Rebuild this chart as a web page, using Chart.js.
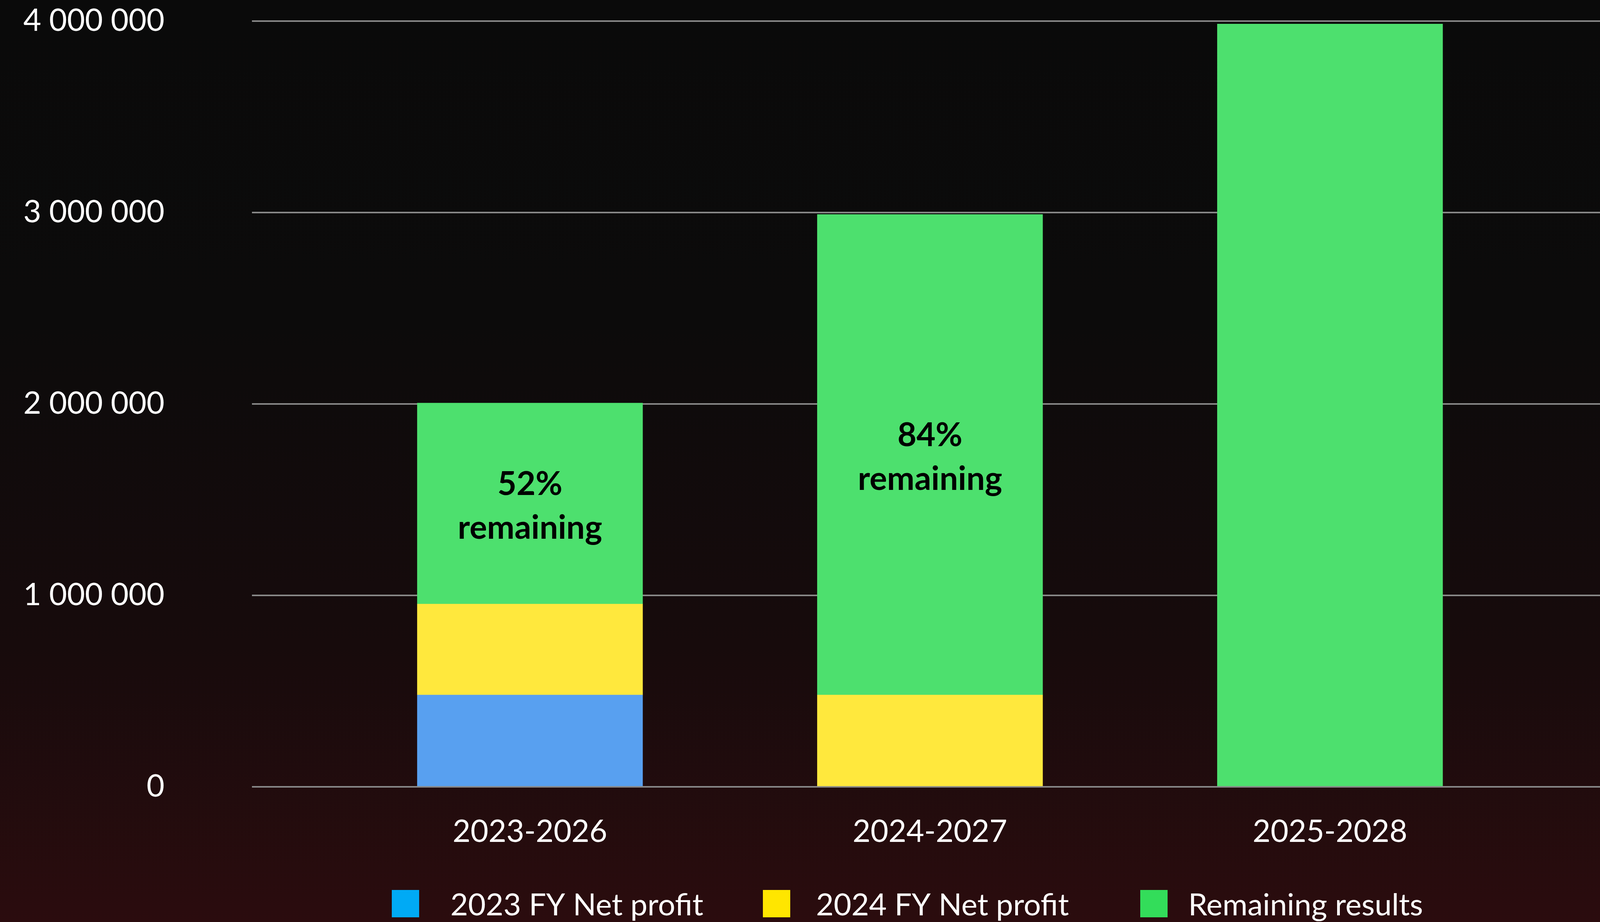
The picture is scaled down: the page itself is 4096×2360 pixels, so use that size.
<!DOCTYPE html>
<html>
<head>
<meta charset="utf-8">
<script src="https://cdn.jsdelivr.net/npm/chart.js@4.4.1/dist/chart.umd.min.js"></script>
<style>
  html, body { margin: 0; padding: 0; }
  body {
    width: 4096px; height: 2360px; overflow: hidden;
    background: linear-gradient(to bottom, #0a0a0a 0%, #0c0b0b 35%, #170b0c 70%, #2b0c0e 100%);
  }
</style>
</head>
<body>
<canvas id="chart" width="4096" height="2360"></canvas>
<script>
// data
const categories = ['2023-2026', '2024-2027', '2025-2028'];
const fy2023Profit = [480000, null, null];
const fy2024Profit = [475000, 480000, null];
const remainingResults = [1050000, 2510000, 3985000];
const remainingShares = ['52%', '84%', ''];
const seriesNames = ['2023 FY Net profit', '2024 FY Net profit', 'Remaining results'];
const yTicks = [0, 1000000, 2000000, 3000000, 4000000];

const barColors = ['#58a0f0', '#ffe83d', '#4de06e'];
const legendColors = ['#00aaf5', '#ffe600', '#33dd5a'];

Chart.defaults.font.family = 'Lato';

const fmt = v => String(v).replace(/\B(?=(\d{3})+(?!\d))/g, ' ');

// "52% remaining" text in the middle of the green part
const remainingLabel = {
  id: 'remainingLabel',
  afterDatasetsDraw(chart) {
    const ctx = chart.ctx;
    const meta = chart.getDatasetMeta(2);
    ctx.save();
    ctx.fillStyle = '#000';
    ctx.font = 'bold 84px Lato';
    ctx.textAlign = 'center';
    ctx.textBaseline = 'alphabetic';
    meta.data.forEach((bar, i) => {
      if (!remainingShares[i]) return;
      const cy = (bar.y + bar.base) / 2;
      ctx.fillText(remainingShares[i], bar.x, cy - 22);
      ctx.fillText('remaining', bar.x, cy + 90);
    });
    ctx.restore();
  }
};

// legend drawn by hand: wider gap between box and text than Chart.js gives
const legendBoxX = [1003, 1953, 2919];
const legendTextX = [1153, 2089, 3042];
const bottomLegend = {
  id: 'bottomLegend',
  afterDraw(chart) {
    const ctx = chart.ctx;
    ctx.save();
    ctx.font = '78px Lato';
    ctx.textAlign = 'left';
    ctx.textBaseline = 'alphabetic';
    seriesNames.forEach((name, i) => {
      ctx.fillStyle = legendColors[i];
      ctx.fillRect(legendBoxX[i], 2278, 70, 70);
      ctx.fillStyle = '#ffffff';
      ctx.fillText(name, legendTextX[i], 2343);
    });
    ctx.restore();
  }
};

new Chart(document.getElementById('chart'), {
  type: 'bar',
  data: {
    labels: categories.map((c, i) => i),
    datasets: [
      { label: seriesNames[0], data: fy2023Profit, backgroundColor: barColors[0] },
      { label: seriesNames[1], data: fy2024Profit, backgroundColor: barColors[1] },
      { label: seriesNames[2], data: remainingResults, backgroundColor: barColors[2] }
    ]
  },
  options: {
    responsive: false,
    animation: false,
    barThickness: 577,
    borderWidth: 0,
    layout: { padding: { top: 54, right: 0, bottom: 0, left: 0 } },
    plugins: { legend: { display: false }, tooltip: { enabled: false } },
    scales: {
      x: {
        type: 'linear',
        stacked: true,
        offset: false,
        min: -0.695,
        max: 2.675,
        afterBuildTicks: s => { s.ticks = categories.map((c, i) => ({ value: i })); },
        afterFit: s => { s.height = 346; s.paddingLeft = 0; s.paddingRight = 0; },
        grid: { display: false, offset: false },
        border: { display: false },
        ticks: {
          callback: v => categories[v],
          color: '#ffffff',
          font: { size: 79 },
          padding: 60,
          maxRotation: 0,
          autoSkip: false
        }
      },
      y: {
        stacked: true,
        min: 0,
        max: 4000000,
        afterBuildTicks: s => { s.ticks = yTicks.map(v => ({ value: v })); },
        afterFit: s => { s.width = 645; s.paddingTop = 0; s.paddingBottom = 0; },
        grid: { color: '#888888', lineWidth: 4, drawTicks: false },
        border: { display: false },
        ticks: {
          callback: v => fmt(v),
          color: '#ffffff',
          font: { size: 79 },
          padding: 224
        }
      }
    }
  },
  plugins: [remainingLabel, bottomLegend]
});
</script>
</body>
</html>
